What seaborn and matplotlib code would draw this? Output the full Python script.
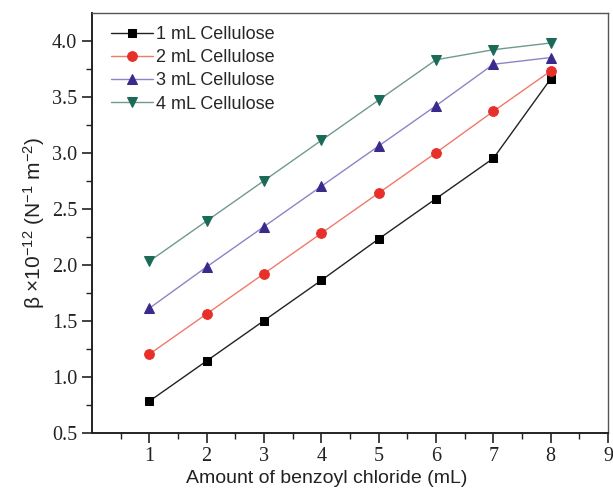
import seaborn as sns
import matplotlib.pyplot as plt
import pandas as pd

# Daten
benzoyl = [1, 2, 3, 4, 5, 6, 7, 8]
cell_1ml = [0.78, 1.14, 1.50, 1.86, 2.23, 2.59, 2.95, 3.66]
cell_2ml = [1.20, 1.56, 1.92, 2.28, 2.64, 3.00, 3.37, 3.73]
cell_3ml = [1.61, 1.98, 2.34, 2.70, 3.06, 3.42, 3.79, 3.85]
cell_4ml = [2.03, 2.39, 2.75, 3.11, 3.47, 3.83, 3.92, 3.98]
labels = ["1 mL Cellulose", "2 mL Cellulose", "3 mL Cellulose", "4 mL Cellulose"]

sns.set_theme(style="ticks")
plt.rcParams["mathtext.default"] = "regular"

serien = [cell_1ml, cell_2ml, cell_3ml, cell_4ml]
markers = ["s", "o", "^", "v"]
line_cols = ["#222222", "#f07a6a", "#8c84c8", "#6f9a90"]
mark_cols = ["#000000", "#e8302a", "#3b2a8c", "#1b6a58"]
msizes = [6, 7, 7.5, 7.5]

fig = plt.figure(figsize=(6.13, 4.91), dpi=100)
ax = fig.add_axes([0.150, 0.119, 0.842, 0.855])

for werte, lab, m, lc, mc, ms in zip(serien, labels, markers, line_cols, mark_cols, msizes):
    df = pd.DataFrame({"x": benzoyl, "y": werte})
    sns.lineplot(data=df, x="x", y="y", ax=ax, color=lc, linewidth=1.0,
                 marker=m, markersize=ms, markerfacecolor=mc, markeredgecolor=mc,
                 label=lab)

ax.set_xlim(0, 9)
ax.set_ylim(0.5, 4.25)
ax.set_xticks(range(1, 10))
ax.set_yticks([0.5, 1.0, 1.5, 2.0, 2.5, 3.0, 3.5, 4.0])
ax.set_yticklabels(["0.5", "1.0", "1.5", "2.0", "2.5", "3.0", "3.5", "4.0"])
ax.set_xticks([x + 0.5 for x in range(0, 9)], minor=True)
ax.set_yticks([0.75 + 0.5 * i for i in range(7)], minor=True)
ax.tick_params(axis="both", which="major", direction="out", length=7, width=1.2,
               colors="#222222", labelsize=14.5)
ax.tick_params(axis="both", which="minor", direction="out", length=4, width=1.0,
               colors="#222222")
for lbl in ax.get_xticklabels() + ax.get_yticklabels():
    lbl.set_family("Liberation Serif")
for sp in ["left", "bottom"]:
    ax.spines[sp].set_linewidth(1.4)
    ax.spines[sp].set_color("#222222")
for sp in ["top", "right"]:
    ax.spines[sp].set_linewidth(1.0)
    ax.spines[sp].set_color("#555555")

ax.set_xlabel("Amount of benzoyl chloride (mL)", fontsize=14,
              family="Liberation Sans", color="#222222")
ax.xaxis.set_label_coords(0.455, -0.088)
ax.set_ylabel(r"β ×10$^{-12}$ (N$^{-1}$ m$^{-2}$)", fontsize=15,
              family="Liberation Sans", color="#222222", labelpad=4)

ax.legend(loc="upper left", bbox_to_anchor=(0.012, 0.999), frameon=False,
          handlelength=2.35, handletextpad=0.15, labelspacing=0.35,
          borderaxespad=0.3, prop={"family": "Liberation Sans", "size": 13})

plt.savefig("out.png", dpi=100)
